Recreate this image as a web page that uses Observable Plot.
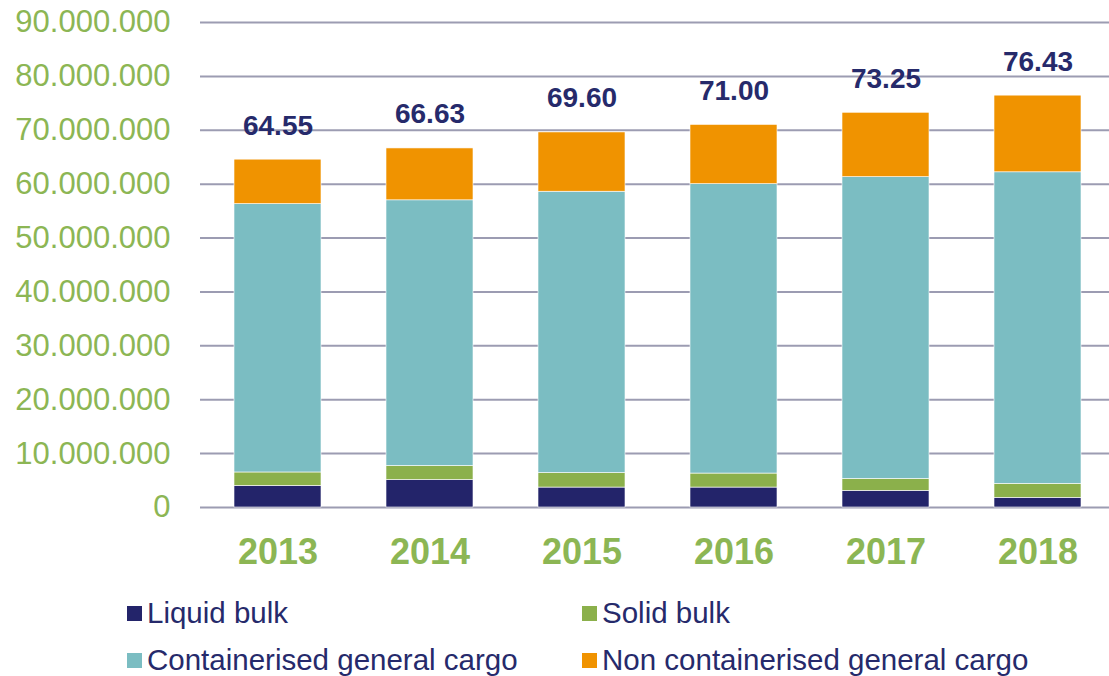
<!DOCTYPE html>
<html>
<head>
<meta charset="utf-8">
<script src="https://cdn.jsdelivr.net/npm/d3@7"></script>
<script src="https://cdn.jsdelivr.net/npm/@observablehq/plot@0.6"></script>
<style>
  html, body { margin: 0; padding: 0; background: #fff; }
  #wrap { position: relative; width: 1109px; height: 676px; overflow: hidden; font-family: Arial, "Liberation Sans", sans-serif; }
  #legend { position: absolute; left: 0; top: 585px; width: 1109px; height: 91px; }
  .item { position: absolute; display: flex; align-items: center; font-size: 29.5px; color: #262A6B; white-space: nowrap; }
  .sw { width: 15px; height: 15px; margin-right: 5px; }
</style>
</head>
<body>
<div id="wrap"><div id="chart"></div><div id="legend"></div></div>
<script>
// Data (millions of tonnes)
const years = ["2013", "2014", "2015", "2016", "2017", "2018"];
const liquidBulk = [4.0, 5.1, 3.7, 3.7, 3.1, 1.8];
const solidBulk = [2.5, 2.6, 2.7, 2.6, 2.2, 2.6];
const containerised = [49.8, 49.3, 52.2, 53.7, 56.0, 57.8];
const nonContainerised = [8.25, 9.63, 11.0, 11.0, 11.95, 14.23];
const totals = [64.55, 66.63, 69.60, 71.00, 73.25, 76.43];
const totalLabels = ["64.55", "66.63", "69.60", "71.00", "73.25", "76.43"];
const seriesNames = ["Liquid bulk", "Solid bulk", "Containerised general cargo", "Non containerised general cargo"];
const seriesColors = ["#23246A", "#8BB04B", "#7BBDC2", "#F09300"];
const yTicks = [0, 10e6, 20e6, 30e6, 40e6, 50e6, 60e6, 70e6, 80e6, 90e6];

const seriesValues = [liquidBulk, solidBulk, containerised, nonContainerised];
const rows = [];
seriesNames.forEach((s, si) => {
  years.forEach((yr, i) => rows.push({year: yr, type: s, value: seriesValues[si][i] * 1e6}));
});
const totalRows = years.map((yr, i) => ({year: yr, total: totals[i] * 1e6, label: totalLabels[i]}));

const fmt = d => d3.format(",")(d).replace(/,/g, ".");

const chart = Plot.plot({
  width: 1109,
  height: 585,
  marginLeft: 200,
  marginRight: -6,
  marginTop: 22,
  marginBottom: 78,
  style: {fontFamily: 'Arial, "Liberation Sans", sans-serif', background: "#fff", overflow: "hidden"},
  x: {domain: years, paddingInner: 0.43, paddingOuter: 0.215},
  y: {domain: [0, 90e6]},
  color: {domain: seriesNames, range: seriesColors},
  marks: [
    Plot.gridY(yTicks, {stroke: "#9C9CB2", strokeOpacity: 1, strokeWidth: 2}),
    Plot.barY(rows, Plot.stackY({order: seriesNames}, {x: "year", y: "value", fill: "type", stroke: "#ffffff", strokeWidth: 0.6})),
    Plot.text(totalRows, {x: "year", y: "total", text: "label", dy: -34, fontSize: 28, fontWeight: "bold", fill: "#262A6B"}),
    Plot.axisY(yTicks, {tickSize: 0, tickPadding: 30, tickFormat: fmt, fontSize: 31, fill: "#8CB654", label: null}),
    Plot.axisX({tickSize: 0, tickPadding: 31, fontSize: 36, fontWeight: "bold", fill: "#8CB654", label: null})
  ]
});
document.getElementById("chart").appendChild(chart);

// Legend
const legend = document.getElementById("legend");
const positions = [[127, 28], [582, 28], [127, 75], [582, 75]];
seriesNames.forEach((s, i) => {
  const it = document.createElement("div");
  it.className = "item";
  it.style.left = positions[i][0] + "px";
  it.style.top = (positions[i][1] - 17) + "px";
  it.style.height = "34px";
  const sw = document.createElement("div");
  sw.className = "sw";
  sw.style.background = seriesColors[i];
  const tx = document.createElement("span");
  tx.textContent = s;
  it.appendChild(sw);
  it.appendChild(tx);
  legend.appendChild(it);
});
</script>
</body>
</html>
